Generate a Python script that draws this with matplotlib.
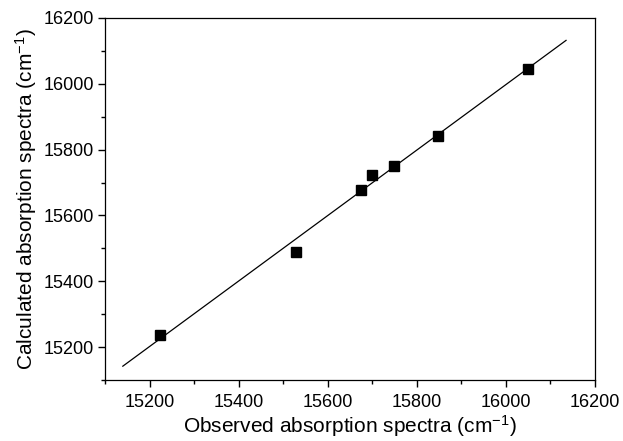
import matplotlib
matplotlib.use("Agg")
import matplotlib.pyplot as plt
from matplotlib.ticker import MultipleLocator

plt.rcParams['font.family'] = ['Liberation Sans', 'DejaVu Sans']
plt.rcParams['mathtext.default'] = 'regular'

observed = [15223, 15528, 15675, 15700, 15748, 15848, 16050]
calculated = [15236, 15490, 15677, 15723, 15751, 15842, 16045]
fit_x = [15140, 16135]
fit_y = [15142, 16132]

W, H = 623, 441
fig = plt.figure(figsize=(W/100, H/100), dpi=100)
L, R, T, B = 105, 595, 18, 380
ax = fig.add_axes([L/W, 1 - B/H, (R-L)/W, (B-T)/H])

ax.plot(fit_x, fit_y, color='black', lw=0.9, zorder=2)
ax.plot(observed, calculated, 's', color='black', markersize=6.5, zorder=3)

ax.set_xlim(15100, 16200)
ax.set_ylim(15100, 16200)
ax.xaxis.set_major_locator(MultipleLocator(200))
ax.xaxis.set_minor_locator(MultipleLocator(100))
ax.yaxis.set_major_locator(MultipleLocator(200))
ax.yaxis.set_minor_locator(MultipleLocator(100))
ax.tick_params(which='both', direction='out', top=False, right=False, width=1, colors='black')
ax.tick_params(which='major', length=5, labelsize=13, pad=3)
ax.tick_params(which='minor', length=3)
ax.tick_params(axis='x', which='major', pad=5)
for s in ax.spines.values():
    s.set_linewidth(0.9)

ax.set_xlabel('Observed absorption spectra (cm$^{-1}$)', fontsize=15)
ax.set_ylabel('Calculated absorption spectra (cm$^{-1}$)', fontsize=15)
ax.xaxis.set_label_coords(0.5, (B - 426) / (B - T), transform=ax.transAxes)
ax.yaxis.set_label_coords((26 - L) / (R - L), 0.5, transform=ax.transAxes)
ax.xaxis.label.set_va('center')
ax.yaxis.label.set_va('center')

fig.savefig('out.png', dpi=100)
